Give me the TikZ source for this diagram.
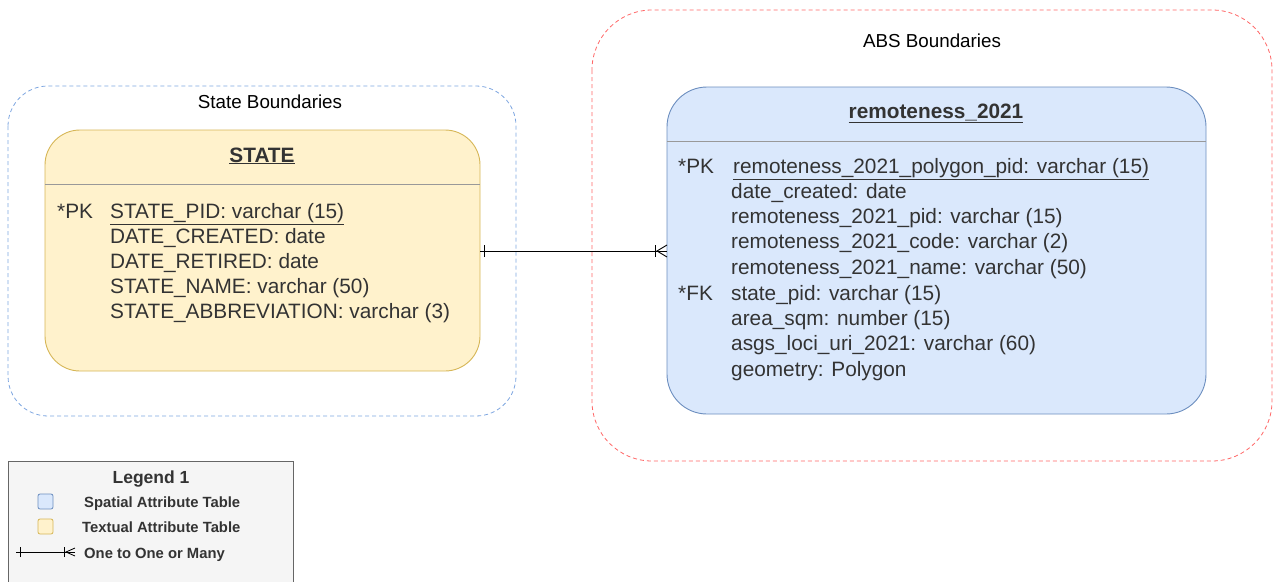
\documentclass[tikz,border=0pt]{standalone}
\usepackage{fontspec}
\setmainfont{Liberation Sans}
\usetikzlibrary{positioning}
\definecolor{yfill}{HTML}{FFF2CC}
\definecolor{ydraw}{HTML}{D6B656}
\definecolor{bfill}{HTML}{DAE8FC}
\definecolor{bdraw}{HTML}{6C8EBF}
\definecolor{gbblue}{HTML}{7EA6E0}
\definecolor{gbred}{HTML}{FF6666}
\definecolor{txt}{HTML}{333333}
\definecolor{legfill}{HTML}{F5F5F5}
\definecolor{legdraw}{HTML}{666666}
\tikzset{
  grp/.style={draw, dashed, dash pattern=on 4pt off 3pt, line width=0.8pt},
  tbl/.style={draw, line width=0.9pt},
  fld/.style={anchor=base west, inner sep=0pt, font=\fontsize{20.8}{24}\selectfont, text=txt},
  ttl/.style={anchor=base, inner sep=0pt, font=\fontsize{20.8}{24}\selectfont\bfseries, text=txt},
  gttl/.style={anchor=base, inner sep=0pt, font=\fontsize{18.8}{22}\selectfont, text=black},
  leg/.style={anchor=base west, inner sep=0pt, font=\fontsize{14.8}{17}\selectfont\bfseries, text=txt},
}
\newcommand{\ul}[1]{\underline{#1}}
\begin{document}
\begin{tikzpicture}[x=1pt,y=-1pt]
\useasboundingbox (0,0) rectangle (1274,581);
% groups
\draw[grp, gbblue, rounded corners=40pt] (8,86) rectangle (516,416);
\node[gttl] (gs) at (270,108) {State Boundaries};
\draw[grp, gbred, rounded corners=60pt] (592,10) rectangle (1272,461);
\node[gttl] (ga) at (932,47) {ABS Boundaries};
% STATE table
\draw[tbl, ydraw, fill=yfill, rounded corners=35pt] (45,130) rectangle (480,371);
\draw[line width=0.9pt, color=gray!80] (45,184) -- (480,184);
\node[ttl] (st) at (262,162) {\ul{STATE}};
\node[fld] (spk) at (57,218) {*PK};
\node[fld] (s1) at (110,218) {\ul{STATE\_PID: varchar (15)}};
\node[fld] (s2) at (110,243) {DATE\_CREATED: date};
\node[fld] (s3) at (110,268) {DATE\_RETIRED: date};
\node[fld] (s4) at (110,293) {STATE\_NAME: varchar (50)};
\node[fld] (s5) at (110,318) {STATE\_ABBREVIATION: varchar (3)};
\coordinate (stR) at (480,251);
% remoteness table
\draw[tbl, bdraw, fill=bfill, rounded corners=40pt] (667,87) rectangle (1206,414);
\draw[line width=0.9pt, color=gray!80] (667,141) -- (1206,141);
\node[ttl] (rt) at (936,118) {\ul{remoteness\_2021}};
\node[fld] (rpk) at (678,173) {*PK};
\node[fld] (r1) at (733,173) {\ul{remoteness\_2021\_polygon\_pid: varchar (15)}};
\node[fld] (r2) at (731,198) {date\_created: date};
\node[fld] (r3) at (731,223) {remoteness\_2021\_pid: varchar (15)};
\node[fld] (r4) at (731,248) {remoteness\_2021\_code: varchar (2)};
\node[fld] (r5) at (731,274) {remoteness\_2021\_name: varchar (50)};
\node[fld] (rfk) at (678,300) {*FK};
\node[fld] (r6) at (731,300) {state\_pid: varchar (15)};
\node[fld] (r7) at (731,325) {area\_sqm: number (15)};
\node[fld] (r8) at (731,350) {asgs\_loci\_uri\_2021: varchar (60)};
\node[fld] (r9) at (731,376) {geometry: Polygon};
\coordinate (rtL) at (667,251);
% connector
\draw[line width=0.9pt] (stR) -- (rtL);
\draw[line width=0.9pt] ([xshift=4pt,yshift=-6pt]stR) -- ([xshift=4pt,yshift=6pt]stR);
\draw[line width=0.9pt] ([xshift=-12pt,yshift=-6pt]rtL) -- ([xshift=-12pt,yshift=6pt]rtL);
\draw[line width=0.9pt] ([yshift=-6pt]rtL) -- ([xshift=-10pt]rtL) -- ([yshift=6pt]rtL);
% legend
\draw[line width=0.9pt, legdraw, fill=legfill] (8,461) rectangle (293,590);
\node[anchor=base, inner sep=0pt, font=\fontsize{17.5}{20}\selectfont\bfseries, text=txt] (lt) at (151,483) {Legend 1};
\draw[line width=0.8pt, bdraw, fill=bfill, rounded corners=2pt] (38,494) rectangle (53,509);
\node[leg] (l1) at (84,507) {Spatial Attribute Table};
\draw[line width=0.8pt, ydraw, fill=yfill, rounded corners=2pt] (38,519) rectangle (53,534);
\node[leg] (l2) at (82,532) {Textual Attribute Table};
\coordinate (la) at (16,552);
\coordinate (lb) at (75,552);
\draw[line width=0.8pt] (la) -- (lb);
\draw[line width=0.8pt] ([xshift=4pt,yshift=-5pt]la) -- ([xshift=4pt,yshift=5pt]la);
\draw[line width=0.8pt] ([xshift=-11pt,yshift=-5pt]lb) -- ([xshift=-11pt,yshift=5pt]lb);
\draw[line width=0.8pt] ([yshift=-4pt]lb) -- ([xshift=-9pt]lb) -- ([yshift=4pt]lb);
\node[leg] (l3) at (84,558) {One to One or Many};
\end{tikzpicture}
\end{document}
